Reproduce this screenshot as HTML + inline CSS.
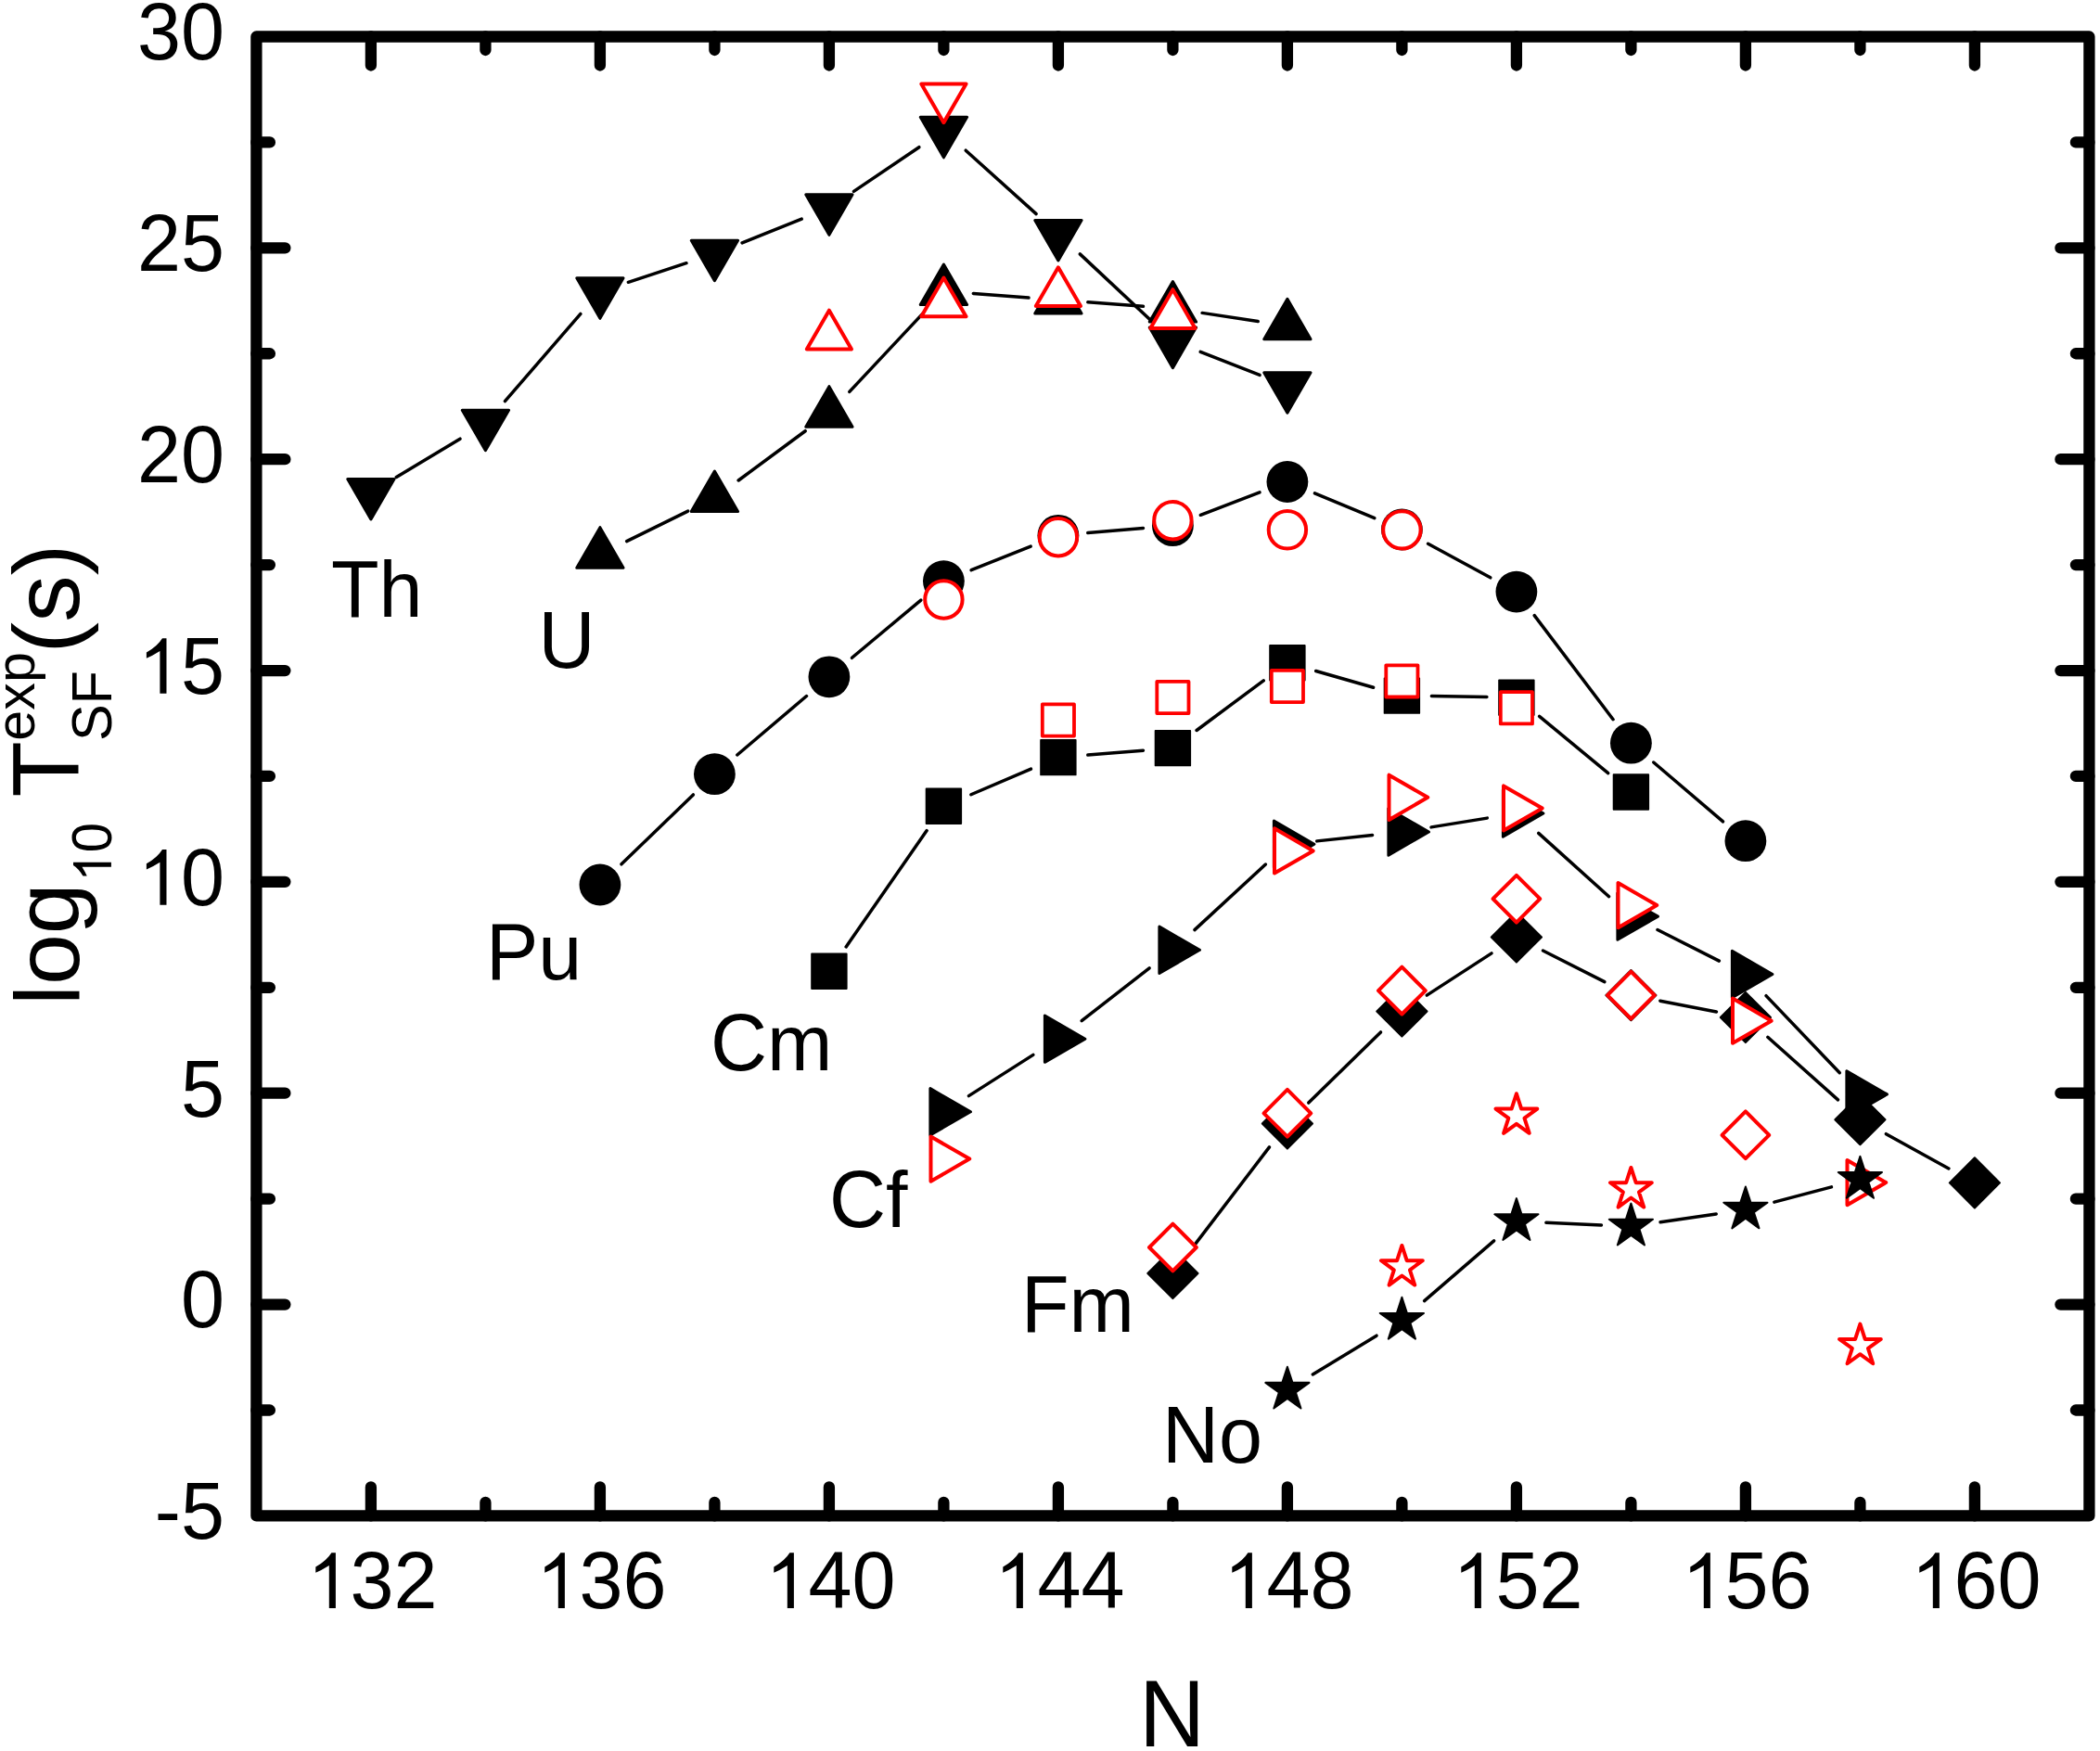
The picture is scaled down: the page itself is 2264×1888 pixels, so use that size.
<!DOCTYPE html><html><head><meta charset="utf-8"><style>html,body{margin:0;padding:0;background:#fff;overflow:hidden}svg{display:block}</style></head><body>
<svg width="2264" height="1888" viewBox="0 0 2264 1888">
<rect width="2264" height="1888" fill="#fff"/>
<g stroke="#000" stroke-width="12.3" stroke-linecap="round" stroke-linejoin="round" fill="none">
<rect x="276.4" y="39.5" width="1976" height="1594.9"/>
<path d="M399.9 1634.4V1603.4M399.9 39.5V70.5M523.4 1634.4V1619.9M523.4 39.5V54M646.9 1634.4V1603.4M646.9 39.5V70.5M770.4 1634.4V1619.9M770.4 39.5V54M893.9 1634.4V1603.4M893.9 39.5V70.5M1017.4 1634.4V1619.9M1017.4 39.5V54M1140.9 1634.4V1603.4M1140.9 39.5V70.5M1264.4 1634.4V1619.9M1264.4 39.5V54M1387.9 1634.4V1603.4M1387.9 39.5V70.5M1511.4 1634.4V1619.9M1511.4 39.5V54M1634.9 1634.4V1603.4M1634.9 39.5V70.5M1758.4 1634.4V1619.9M1758.4 39.5V54M1881.9 1634.4V1603.4M1881.9 39.5V70.5M2005.4 1634.4V1619.9M2005.4 39.5V54M2128.9 1634.4V1603.4M2128.9 39.5V70.5M276.4 153.42H290.9M2252.4 153.42H2237.9M276.4 267.34H307.4M2252.4 267.34H2221.4M276.4 381.26H290.9M2252.4 381.26H2237.9M276.4 495.19H307.4M2252.4 495.19H2221.4M276.4 609.11H290.9M2252.4 609.11H2237.9M276.4 723.03H307.4M2252.4 723.03H2221.4M276.4 836.95H290.9M2252.4 836.95H2237.9M276.4 950.87H307.4M2252.4 950.87H2221.4M276.4 1064.79H290.9M2252.4 1064.79H2237.9M276.4 1178.71H307.4M2252.4 1178.71H2221.4M276.4 1292.64H290.9M2252.4 1292.64H2237.9M276.4 1406.56H307.4M2252.4 1406.56H2221.4M276.4 1520.48H290.9M2252.4 1520.48H2237.9"/>
</g>
<g font-family="Liberation Sans, sans-serif" font-size="84.5" fill="#000">
<path transform="translate(330.41,1733.9) scale(1,1)" d="M31.48 0L31.48 -59.6L26.98 -59.6Q21.94 -51.25 9.89 -44.3L9.89 -38.1Q16.29 -40.64 24.39 -45.8L24.39 0Z"/>
<text transform="translate(377.4,1733.9) scale(1,1.04)">3</text>
<text transform="translate(424.4,1733.9) scale(1,1.04)">2</text>
<path transform="translate(577.41,1733.9) scale(1,1)" d="M31.48 0L31.48 -59.6L26.98 -59.6Q21.94 -51.25 9.89 -44.3L9.89 -38.1Q16.29 -40.64 24.39 -45.8L24.39 0Z"/>
<text transform="translate(624.4,1733.9) scale(1,1.04)">3</text>
<text transform="translate(671.4,1733.9) scale(1,1.04)">6</text>
<path transform="translate(824.41,1733.9) scale(1,1)" d="M31.48 0L31.48 -59.6L26.98 -59.6Q21.94 -51.25 9.89 -44.3L9.89 -38.1Q16.29 -40.64 24.39 -45.8L24.39 0Z"/>
<text transform="translate(871.4,1733.9) scale(1,1.04)">4</text>
<text transform="translate(918.4,1733.9) scale(1,1.04)">0</text>
<path transform="translate(1071.41,1733.9) scale(1,1)" d="M31.48 0L31.48 -59.6L26.98 -59.6Q21.94 -51.25 9.89 -44.3L9.89 -38.1Q16.29 -40.64 24.39 -45.8L24.39 0Z"/>
<text transform="translate(1118.4,1733.9) scale(1,1.04)">4</text>
<text transform="translate(1165.4,1733.9) scale(1,1.04)">4</text>
<path transform="translate(1318.41,1733.9) scale(1,1)" d="M31.48 0L31.48 -59.6L26.98 -59.6Q21.94 -51.25 9.89 -44.3L9.89 -38.1Q16.29 -40.64 24.39 -45.8L24.39 0Z"/>
<text transform="translate(1365.4,1733.9) scale(1,1.04)">4</text>
<text transform="translate(1412.4,1733.9) scale(1,1.04)">8</text>
<path transform="translate(1565.41,1733.9) scale(1,1)" d="M31.48 0L31.48 -59.6L26.98 -59.6Q21.94 -51.25 9.89 -44.3L9.89 -38.1Q16.29 -40.64 24.39 -45.8L24.39 0Z"/>
<text transform="translate(1612.4,1733.9) scale(1,1.04)">5</text>
<text transform="translate(1659.4,1733.9) scale(1,1.04)">2</text>
<path transform="translate(1812.41,1733.9) scale(1,1)" d="M31.48 0L31.48 -59.6L26.98 -59.6Q21.94 -51.25 9.89 -44.3L9.89 -38.1Q16.29 -40.64 24.39 -45.8L24.39 0Z"/>
<text transform="translate(1859.4,1733.9) scale(1,1.04)">5</text>
<text transform="translate(1906.4,1733.9) scale(1,1.04)">6</text>
<path transform="translate(2059.41,1733.9) scale(1,1)" d="M31.48 0L31.48 -59.6L26.98 -59.6Q21.94 -51.25 9.89 -44.3L9.89 -38.1Q16.29 -40.64 24.39 -45.8L24.39 0Z"/>
<text transform="translate(2106.4,1733.9) scale(1,1.04)">6</text>
<text transform="translate(2153.4,1733.9) scale(1,1.04)">0</text>
<text transform="translate(148.01,64.3) scale(1,1.04)">3</text>
<text transform="translate(195.01,64.3) scale(1,1.04)">0</text>
<text transform="translate(148.01,292.14) scale(1,1.04)">2</text>
<text transform="translate(195.01,292.14) scale(1,1.04)">5</text>
<text transform="translate(148.01,519.99) scale(1,1.04)">2</text>
<text transform="translate(195.01,519.99) scale(1,1.04)">0</text>
<path transform="translate(148.01,747.83) scale(1,1)" d="M31.48 0L31.48 -59.6L26.98 -59.6Q21.94 -51.25 9.89 -44.3L9.89 -38.1Q16.29 -40.64 24.39 -45.8L24.39 0Z"/>
<text transform="translate(195.01,747.83) scale(1,1.04)">5</text>
<path transform="translate(148.01,975.67) scale(1,1)" d="M31.48 0L31.48 -59.6L26.98 -59.6Q21.94 -51.25 9.89 -44.3L9.89 -38.1Q16.29 -40.64 24.39 -45.8L24.39 0Z"/>
<text transform="translate(195.01,975.67) scale(1,1.04)">0</text>
<text transform="translate(195.01,1203.51) scale(1,1.04)">5</text>
<text transform="translate(195.01,1431.36) scale(1,1.04)">0</text>
<text transform="translate(166.87,1659.2) scale(1,1.04)">-</text>
<text transform="translate(195.01,1659.2) scale(1,1.04)">5</text>
<text transform="translate(357,665) scale(1,1.04)">T</text>
<text transform="translate(408.62,665) scale(1,1)">h</text>
<text transform="translate(580.5,720) scale(1,1.04)">U</text>
<text transform="translate(524,1055.5) scale(1,1.04)">P</text>
<text transform="translate(580.36,1055.5) scale(1,1)">u</text>
<text transform="translate(766,1154.3) scale(1,1.04)">C</text>
<text transform="translate(827.02,1154.3) scale(1,1)">m</text>
<text transform="translate(894,1323.3) scale(1,1.04)">C</text>
<text transform="translate(955.02,1323.3) scale(1,1)">f</text>
<text transform="translate(1101,1436.2) scale(1,1.04)">F</text>
<text transform="translate(1152.62,1436.2) scale(1,1)">m</text>
<text transform="translate(1253,1577.2) scale(1,1.04)">N</text>
<text transform="translate(1314.02,1577.2) scale(1,1)">o</text>
</g>
<text transform="translate(1263.6,1883) scale(1,1.04)" text-anchor="middle" font-family="Liberation Sans, sans-serif" font-size="98.5">N</text>
<g transform="translate(85.3,1077.4) rotate(-90)" font-family="Liberation Sans, sans-serif" fill="#000">
<text x="-6.5" y="0" font-size="98.5">log</text>
<g font-size="58"><path transform="translate(126,34.6) scale(1,1)" d="M21.61 0L21.61 -40.91L18.52 -40.91Q15.06 -35.18 6.79 -30.41L6.79 -26.15Q11.18 -27.9 16.74 -31.44L16.74 0Z"/>
<text transform="translate(158.26,34.6) scale(1,1.04)">0</text></g>
<text transform="translate(218,0) scale(1,1.04)" font-size="98.5">T</text>
<text x="278.7" y="-47.9" font-size="59.3">exp</text>
<text transform="translate(278.3,34.6) scale(1,1.04)" font-size="59.5">SF</text>
<text x="373" y="0" font-size="101">(s)</text>
</g>
<g stroke="#000" stroke-width="3.5" stroke-linecap="round">
<line x1="427.32" y1="514.5" x2="495.98" y2="473.2"/>
<line x1="544.37" y1="432.53" x2="625.93" y2="338.47"/>
<line x1="677.3" y1="304.31" x2="740" y2="283.69"/>
<line x1="800.11" y1="261.82" x2="864.19" y2="236.18"/>
<line x1="920.41" y1="206.38" x2="990.89" y2="158.72"/>
<line x1="1041.18" y1="162.21" x2="1117.12" y2="230.59"/>
<line x1="1164.26" y1="273.87" x2="1241.04" y2="345.73"/>
<line x1="1294.18" y1="379.32" x2="1358.12" y2="404.48"/>
<line x1="675.62" y1="583.58" x2="741.68" y2="551.12"/>
<line x1="796.13" y1="517.98" x2="868.17" y2="464.72"/>
<line x1="915.79" y1="422.36" x2="995.51" y2="337.34"/>
<line x1="1049.31" y1="316.45" x2="1108.99" y2="321.05"/>
<line x1="1172.81" y1="325.85" x2="1232.49" y2="330.25"/>
<line x1="1296.04" y1="337.39" x2="1356.26" y2="346.51"/>
<line x1="669.92" y1="931.77" x2="747.38" y2="856.93"/>
<line x1="794.79" y1="813.98" x2="869.51" y2="750.52"/>
<line x1="918.46" y1="709.28" x2="992.84" y2="647.12"/>
<line x1="1047.12" y1="614.74" x2="1111.18" y2="589.16"/>
<line x1="1172.78" y1="574.56" x2="1232.52" y2="569.44"/>
<line x1="1294.29" y1="555.28" x2="1358.01" y2="530.92"/>
<line x1="1417.43" y1="531.82" x2="1481.87" y2="558.68"/>
<line x1="1539.52" y1="586.28" x2="1606.78" y2="622.82"/>
<line x1="1654.22" y1="663.61" x2="1739.08" y2="775.69"/>
<line x1="1782.73" y1="821.98" x2="1857.57" y2="885.92"/>
<line x1="912.15" y1="1020.91" x2="999.15" y2="895.59"/>
<line x1="1046.83" y1="856.74" x2="1111.47" y2="829.16"/>
<line x1="1172.8" y1="814.02" x2="1232.5" y2="809.18"/>
<line x1="1290.07" y1="787.5" x2="1362.23" y2="733.8"/>
<line x1="1418.66" y1="723.52" x2="1480.64" y2="741.28"/>
<line x1="1543.4" y1="750.62" x2="1602.9" y2="751.58"/>
<line x1="1659.58" y1="772.47" x2="1733.72" y2="833.63"/>
<line x1="1044.4" y1="1181.62" x2="1113.9" y2="1137.38"/>
<line x1="1166.17" y1="1100.57" x2="1239.13" y2="1043.93"/>
<line x1="1287.91" y1="1002.6" x2="1364.39" y2="932"/>
<line x1="1419.72" y1="906.87" x2="1479.58" y2="900.43"/>
<line x1="1542.99" y1="891.88" x2="1603.31" y2="882.12"/>
<line x1="1658.69" y1="898.4" x2="1734.61" y2="966.7"/>
<line x1="1786.96" y1="1002.53" x2="1853.34" y2="1036.07"/>
<line x1="1903.99" y1="1073.65" x2="1983.31" y2="1156.75"/>
<line x1="1283.84" y1="1347.58" x2="1368.46" y2="1236.92"/>
<line x1="1410.76" y1="1189.11" x2="1488.54" y2="1112.89"/>
<line x1="1538.26" y1="1073.1" x2="1608.04" y2="1027.9"/>
<line x1="1663.44" y1="1024.97" x2="1729.86" y2="1058.63"/>
<line x1="1789.82" y1="1079.18" x2="1850.48" y2="1090.92"/>
<line x1="1905.78" y1="1118.31" x2="1981.52" y2="1185.89"/>
<line x1="2033.41" y1="1222.67" x2="2100.89" y2="1259.93"/>
<line x1="1415.26" y1="1481.91" x2="1484.04" y2="1440.19"/>
<line x1="1535.61" y1="1402.68" x2="1610.69" y2="1337.82"/>
<line x1="1666.87" y1="1318.32" x2="1726.43" y2="1320.98"/>
<line x1="1790.06" y1="1317.76" x2="1850.24" y2="1308.94"/>
<line x1="1912.84" y1="1296.13" x2="1974.46" y2="1279.87"/>
</g>
<polygon points="399.9,560.04 425.05,516.48 374.75,516.48" fill="#000" stroke="#000" stroke-linejoin="round" stroke-width="3"/>
<polygon points="523.4,485.74 548.55,442.18 498.25,442.18" fill="#000" stroke="#000" stroke-linejoin="round" stroke-width="3"/>
<polygon points="646.9,343.34 672.05,299.78 621.75,299.78" fill="#000" stroke="#000" stroke-linejoin="round" stroke-width="3"/>
<polygon points="770.4,302.74 795.55,259.18 745.25,259.18" fill="#000" stroke="#000" stroke-linejoin="round" stroke-width="3"/>
<polygon points="893.9,253.34 919.05,209.78 868.75,209.78" fill="#000" stroke="#000" stroke-linejoin="round" stroke-width="3"/>
<polygon points="1017.4,169.84 1042.55,126.28 992.25,126.28" fill="#000" stroke="#000" stroke-linejoin="round" stroke-width="3"/>
<polygon points="1140.9,281.04 1166.05,237.48 1115.75,237.48" fill="#000" stroke="#000" stroke-linejoin="round" stroke-width="3"/>
<polygon points="1264.4,396.64 1289.55,353.08 1239.25,353.08" fill="#000" stroke="#000" stroke-linejoin="round" stroke-width="3"/>
<polygon points="1387.9,445.24 1413.05,401.68 1362.75,401.68" fill="#000" stroke="#000" stroke-linejoin="round" stroke-width="3"/>
<polygon points="646.9,568.66 672.05,612.22 621.75,612.22" fill="#000" stroke="#000" stroke-linejoin="round" stroke-width="3"/>
<polygon points="770.4,507.96 795.55,551.52 745.25,551.52" fill="#000" stroke="#000" stroke-linejoin="round" stroke-width="3"/>
<polygon points="893.9,416.66 919.05,460.22 868.75,460.22" fill="#000" stroke="#000" stroke-linejoin="round" stroke-width="3"/>
<polygon points="1017.4,284.96 1042.55,328.52 992.25,328.52" fill="#000" stroke="#000" stroke-linejoin="round" stroke-width="3"/>
<polygon points="1140.9,294.46 1166.05,338.02 1115.75,338.02" fill="#000" stroke="#000" stroke-linejoin="round" stroke-width="3"/>
<polygon points="1264.4,303.56 1289.55,347.12 1239.25,347.12" fill="#000" stroke="#000" stroke-linejoin="round" stroke-width="3"/>
<polygon points="1387.9,322.26 1413.05,365.82 1362.75,365.82" fill="#000" stroke="#000" stroke-linejoin="round" stroke-width="3"/>
<circle cx="646.9" cy="954" r="22.4" fill="#000"/>
<circle cx="770.4" cy="834.7" r="22.4" fill="#000"/>
<circle cx="893.9" cy="729.8" r="22.4" fill="#000"/>
<circle cx="1017.4" cy="626.6" r="22.4" fill="#000"/>
<circle cx="1140.9" cy="577.3" r="22.4" fill="#000"/>
<circle cx="1264.4" cy="566.7" r="22.4" fill="#000"/>
<circle cx="1387.9" cy="519.5" r="22.4" fill="#000"/>
<circle cx="1511.4" cy="571" r="22.4" fill="#000"/>
<circle cx="1634.9" cy="638.1" r="22.4" fill="#000"/>
<circle cx="1758.4" cy="801.2" r="22.4" fill="#000"/>
<circle cx="1881.9" cy="906.7" r="22.4" fill="#000"/>
<rect x="875.1" y="1028.4" width="37.6" height="37.6" fill="#000" stroke="#000" stroke-linejoin="round" stroke-width="1.8"/>
<rect x="998.6" y="850.5" width="37.6" height="37.6" fill="#000" stroke="#000" stroke-linejoin="round" stroke-width="1.8"/>
<rect x="1122.1" y="797.8" width="37.6" height="37.6" fill="#000" stroke="#000" stroke-linejoin="round" stroke-width="1.8"/>
<rect x="1245.6" y="787.8" width="37.6" height="37.6" fill="#000" stroke="#000" stroke-linejoin="round" stroke-width="1.8"/>
<rect x="1369.1" y="695.9" width="37.6" height="37.6" fill="#000" stroke="#000" stroke-linejoin="round" stroke-width="1.8"/>
<rect x="1492.6" y="731.3" width="37.6" height="37.6" fill="#000" stroke="#000" stroke-linejoin="round" stroke-width="1.8"/>
<rect x="1616.1" y="733.3" width="37.6" height="37.6" fill="#000" stroke="#000" stroke-linejoin="round" stroke-width="1.8"/>
<rect x="1739.6" y="835.2" width="37.6" height="37.6" fill="#000" stroke="#000" stroke-linejoin="round" stroke-width="1.8"/>
<polygon points="1046.44,1198.8 1002.88,1173.65 1002.88,1223.95" fill="#000" stroke="#000" stroke-linejoin="round" stroke-width="3"/>
<polygon points="1169.94,1120.2 1126.38,1095.05 1126.38,1145.35" fill="#000" stroke="#000" stroke-linejoin="round" stroke-width="3"/>
<polygon points="1293.44,1024.3 1249.88,999.15 1249.88,1049.45" fill="#000" stroke="#000" stroke-linejoin="round" stroke-width="3"/>
<polygon points="1416.94,910.3 1373.38,885.15 1373.38,935.45" fill="#000" stroke="#000" stroke-linejoin="round" stroke-width="3"/>
<polygon points="1540.44,897 1496.88,871.85 1496.88,922.15" fill="#000" stroke="#000" stroke-linejoin="round" stroke-width="3"/>
<polygon points="1663.94,877 1620.38,851.85 1620.38,902.15" fill="#000" stroke="#000" stroke-linejoin="round" stroke-width="3"/>
<polygon points="1787.44,988.1 1743.88,962.95 1743.88,1013.25" fill="#000" stroke="#000" stroke-linejoin="round" stroke-width="3"/>
<polygon points="1910.94,1050.5 1867.38,1025.35 1867.38,1075.65" fill="#000" stroke="#000" stroke-linejoin="round" stroke-width="3"/>
<polygon points="2034.44,1179.9 1990.88,1154.75 1990.88,1205.05" fill="#000" stroke="#000" stroke-linejoin="round" stroke-width="3"/>
<polygon points="1264.4,1345.9 1291.5,1373 1264.4,1400.1 1237.3,1373" fill="#000" stroke="#000" stroke-linejoin="round" stroke-width="2"/>
<polygon points="1387.9,1184.4 1415,1211.5 1387.9,1238.6 1360.8,1211.5" fill="#000" stroke="#000" stroke-linejoin="round" stroke-width="2"/>
<polygon points="1511.4,1063.4 1538.5,1090.5 1511.4,1117.6 1484.3,1090.5" fill="#000" stroke="#000" stroke-linejoin="round" stroke-width="2"/>
<polygon points="1634.9,983.4 1662,1010.5 1634.9,1037.6 1607.8,1010.5" fill="#000" stroke="#000" stroke-linejoin="round" stroke-width="2"/>
<polygon points="1758.4,1046 1785.5,1073.1 1758.4,1100.2 1731.3,1073.1" fill="#000" stroke="#000" stroke-linejoin="round" stroke-width="2"/>
<polygon points="1881.9,1069.9 1909,1097 1881.9,1124.1 1854.8,1097" fill="#000" stroke="#000" stroke-linejoin="round" stroke-width="2"/>
<polygon points="2005.4,1180.1 2032.5,1207.2 2005.4,1234.3 1978.3,1207.2" fill="#000" stroke="#000" stroke-linejoin="round" stroke-width="2"/>
<polygon points="2128.9,1248.3 2156,1275.4 2128.9,1302.5 2101.8,1275.4" fill="#000" stroke="#000" stroke-linejoin="round" stroke-width="2"/>
<polygon points="1017.4,132.13 1041.5,90.39 993.3,90.39" fill="#fff" stroke="#ff0000" stroke-linejoin="round" stroke-width="4"/>
<polygon points="893.9,334.67 918,376.41 869.8,376.41" fill="#fff" stroke="#ff0000" stroke-linejoin="round" stroke-width="4"/>
<polygon points="1017.4,299.57 1041.5,341.31 993.3,341.31" fill="#fff" stroke="#ff0000" stroke-linejoin="round" stroke-width="4"/>
<polygon points="1140.9,288.37 1165,330.11 1116.8,330.11" fill="#fff" stroke="#ff0000" stroke-linejoin="round" stroke-width="4"/>
<polygon points="1264.4,312.17 1288.5,353.91 1240.3,353.91" fill="#fff" stroke="#ff0000" stroke-linejoin="round" stroke-width="4"/>
<circle cx="1017.4" cy="646.5" r="20.2" fill="#fff" stroke="#ff0000" stroke-linejoin="round" stroke-width="4"/>
<circle cx="1140.9" cy="579.2" r="20.2" fill="#fff" stroke="#ff0000" stroke-linejoin="round" stroke-width="4"/>
<circle cx="1264.4" cy="561.2" r="20.2" fill="#fff" stroke="#ff0000" stroke-linejoin="round" stroke-width="4"/>
<circle cx="1387.9" cy="571.3" r="20.2" fill="#fff" stroke="#ff0000" stroke-linejoin="round" stroke-width="4"/>
<circle cx="1511.4" cy="571.4" r="20.2" fill="#fff" stroke="#ff0000" stroke-linejoin="round" stroke-width="4"/>
<rect x="1123.8" y="759.4" width="34.2" height="34.2" fill="#fff" stroke="#ff0000" stroke-linejoin="round" stroke-width="3.8"/>
<rect x="1247.3" y="734.9" width="34.2" height="34.2" fill="#fff" stroke="#ff0000" stroke-linejoin="round" stroke-width="3.8"/>
<rect x="1370.8" y="722.9" width="34.2" height="34.2" fill="#fff" stroke="#ff0000" stroke-linejoin="round" stroke-width="3.8"/>
<rect x="1494.3" y="717.3" width="34.2" height="34.2" fill="#fff" stroke="#ff0000" stroke-linejoin="round" stroke-width="3.8"/>
<rect x="1617.8" y="746.2" width="34.2" height="34.2" fill="#fff" stroke="#ff0000" stroke-linejoin="round" stroke-width="3.8"/>
<polygon points="1045.23,1249.6 1003.49,1225.5 1003.49,1273.7" fill="#fff" stroke="#ff0000" stroke-linejoin="round" stroke-width="4"/>
<polygon points="1415.73,917.4 1373.99,893.3 1373.99,941.5" fill="#fff" stroke="#ff0000" stroke-linejoin="round" stroke-width="4"/>
<polygon points="1539.23,859.8 1497.49,835.7 1497.49,883.9" fill="#fff" stroke="#ff0000" stroke-linejoin="round" stroke-width="4"/>
<polygon points="1662.73,871.5 1620.99,847.4 1620.99,895.6" fill="#fff" stroke="#ff0000" stroke-linejoin="round" stroke-width="4"/>
<polygon points="1786.23,976.1 1744.49,952 1744.49,1000.2" fill="#fff" stroke="#ff0000" stroke-linejoin="round" stroke-width="4"/>
<polygon points="1909.73,1100.7 1867.99,1076.6 1867.99,1124.8" fill="#fff" stroke="#ff0000" stroke-linejoin="round" stroke-width="4"/>
<polygon points="2033.23,1275.1 1991.49,1251 1991.49,1299.2" fill="#fff" stroke="#ff0000" stroke-linejoin="round" stroke-width="4"/>
<polygon points="1264.4,1319.6 1289.8,1345 1264.4,1370.4 1239,1345" fill="#fff" stroke="#ff0000" stroke-linejoin="round" stroke-width="4"/>
<polygon points="1387.9,1174.9 1413.3,1200.3 1387.9,1225.7 1362.5,1200.3" fill="#fff" stroke="#ff0000" stroke-linejoin="round" stroke-width="4"/>
<polygon points="1511.4,1042.7 1536.8,1068.1 1511.4,1093.5 1486,1068.1" fill="#fff" stroke="#ff0000" stroke-linejoin="round" stroke-width="4"/>
<polygon points="1634.9,943.8 1660.3,969.2 1634.9,994.6 1609.5,969.2" fill="#fff" stroke="#ff0000" stroke-linejoin="round" stroke-width="4"/>
<polygon points="1758.4,1047.7 1783.8,1073.1 1758.4,1098.5 1733,1073.1" fill="#fff" stroke="#ff0000" stroke-linejoin="round" stroke-width="4"/>
<polygon points="1881.9,1198.4 1907.3,1223.8 1881.9,1249.2 1856.5,1223.8" fill="#fff" stroke="#ff0000" stroke-linejoin="round" stroke-width="4"/>
<polygon points="1511.4,1342.95 1516.69,1359.22 1533.8,1359.22 1519.96,1369.28 1525.24,1385.55 1511.4,1375.5 1497.56,1385.55 1502.84,1369.28 1489,1359.22 1506.11,1359.22" fill="#fff" stroke="#ff0000" stroke-linejoin="round" stroke-width="4"/>
<polygon points="1634.9,1179.25 1640.19,1195.52 1657.3,1195.52 1643.46,1205.58 1648.74,1221.85 1634.9,1211.8 1621.06,1221.85 1626.34,1205.58 1612.5,1195.52 1629.61,1195.52" fill="#fff" stroke="#ff0000" stroke-linejoin="round" stroke-width="4"/>
<polygon points="1758.4,1258.95 1763.69,1275.22 1780.8,1275.22 1766.96,1285.28 1772.24,1301.55 1758.4,1291.5 1744.56,1301.55 1749.84,1285.28 1736,1275.22 1753.11,1275.22" fill="#fff" stroke="#ff0000" stroke-linejoin="round" stroke-width="4"/>
<polygon points="2005.4,1427.65 2010.69,1443.92 2027.8,1443.92 2013.96,1453.98 2019.24,1470.25 2005.4,1460.2 1991.56,1470.25 1996.84,1453.98 1983,1443.92 2000.11,1443.92" fill="#fff" stroke="#ff0000" stroke-linejoin="round" stroke-width="4"/>
<polygon points="1387.9,1473.7 1393.47,1490.84 1411.49,1490.84 1396.91,1501.43 1402.48,1518.56 1387.9,1507.97 1373.32,1518.56 1378.89,1501.43 1364.31,1490.84 1382.33,1490.84" fill="#000" stroke="#000" stroke-linejoin="round" stroke-width="2"/>
<polygon points="1511.4,1398.8 1516.97,1415.94 1534.99,1415.94 1520.41,1426.53 1525.98,1443.66 1511.4,1433.07 1496.82,1443.66 1502.39,1426.53 1487.81,1415.94 1505.83,1415.94" fill="#000" stroke="#000" stroke-linejoin="round" stroke-width="2"/>
<polygon points="1634.9,1292.1 1640.47,1309.24 1658.49,1309.24 1643.91,1319.83 1649.48,1336.96 1634.9,1326.37 1620.32,1336.96 1625.89,1319.83 1611.31,1309.24 1629.33,1309.24" fill="#000" stroke="#000" stroke-linejoin="round" stroke-width="2"/>
<polygon points="1758.4,1297.6 1763.97,1314.74 1781.99,1314.74 1767.41,1325.33 1772.98,1342.46 1758.4,1331.87 1743.82,1342.46 1749.39,1325.33 1734.81,1314.74 1752.83,1314.74" fill="#000" stroke="#000" stroke-linejoin="round" stroke-width="2"/>
<polygon points="1881.9,1279.5 1887.47,1296.64 1905.49,1296.64 1890.91,1307.23 1896.48,1324.36 1881.9,1313.77 1867.32,1324.36 1872.89,1307.23 1858.31,1296.64 1876.33,1296.64" fill="#000" stroke="#000" stroke-linejoin="round" stroke-width="2"/>
<polygon points="2005.4,1246.9 2010.97,1264.04 2028.99,1264.04 2014.41,1274.63 2019.98,1291.76 2005.4,1281.17 1990.82,1291.76 1996.39,1274.63 1981.81,1264.04 1999.83,1264.04" fill="#000" stroke="#000" stroke-linejoin="round" stroke-width="2"/>
</svg></body></html>
